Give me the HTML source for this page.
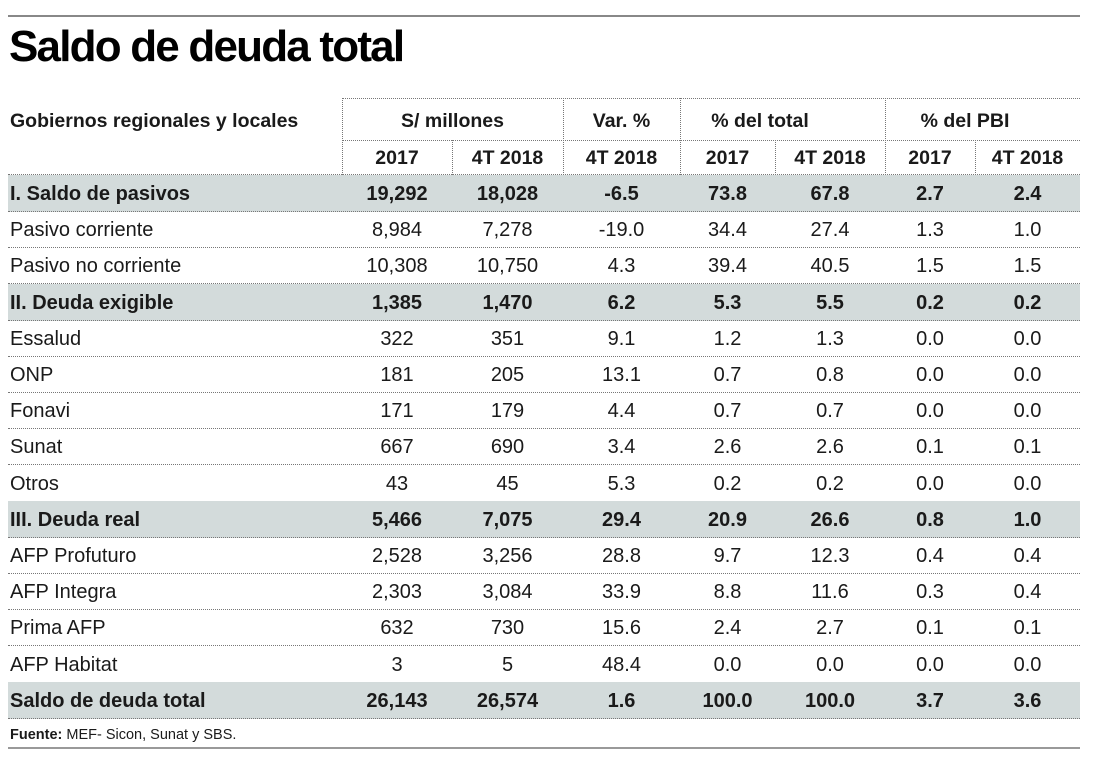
<!DOCTYPE html>
<html><head><meta charset="utf-8"><style>
body{margin:0;background:#fff;width:1104px;height:761px;position:relative;overflow:hidden;font-family:"Liberation Sans",sans-serif;color:#1a1a1a}
.a{position:absolute}
.t{left:9px;top:22px;font-size:44px;font-weight:bold;letter-spacing:-1.8px;color:#000}
.row{position:absolute;left:8px;width:1072px;height:36px;border-bottom:1px dotted #777;font-size:20px}
.row.s{background:#d3dbdb;font-weight:bold}
.c{position:absolute;top:0;height:36px;line-height:38px;text-align:center}
.l{position:absolute;left:2px;top:0;line-height:38px}
.h{font-weight:bold;font-size:19.5px}
.vl{position:absolute;border-left:1px dotted #777}
.hl{position:absolute;border-top:1px dotted #777}
</style></head><body>
<div class="a" style="left:8px;top:15px;width:1072px;border-top:2px solid #888"></div>
<div class="a t">Saldo de deuda total</div>

<div class="hl" style="left:342px;top:98px;width:738px"></div>
<div class="hl" style="left:342px;top:140px;width:738px"></div>
<div class="vl" style="left:342px;top:98px;height:77px"></div>
<div class="vl" style="left:563px;top:98px;height:77px"></div>
<div class="vl" style="left:680px;top:98px;height:77px"></div>
<div class="vl" style="left:885px;top:98px;height:77px"></div>
<div class="vl" style="left:452px;top:140px;height:35px"></div>
<div class="vl" style="left:775px;top:140px;height:35px"></div>
<div class="vl" style="left:975px;top:140px;height:35px"></div>
<div class="a h" style="left:10px;top:110px">Gobiernos regionales y locales</div>
<div class="a h" style="left:342px;width:221px;top:110px;text-align:center">S/ millones</div>
<div class="a h" style="left:563px;width:117px;top:110px;text-align:center">Var. %</div>
<div class="a h" style="left:680px;width:160px;top:110px;text-align:center">% del total</div>
<div class="a h" style="left:885px;width:160px;top:110px;text-align:center">% del PBI</div>
<div class="a h" style="left:342px;width:110px;top:147px;text-align:center">2017</div>
<div class="a h" style="left:452px;width:111px;top:147px;text-align:center">4T 2018</div>
<div class="a h" style="left:563px;width:117px;top:147px;text-align:center">4T 2018</div>
<div class="a h" style="left:680px;width:95px;top:147px;text-align:center">2017</div>
<div class="a h" style="left:775px;width:110px;top:147px;text-align:center">4T 2018</div>
<div class="a h" style="left:885px;width:90px;top:147px;text-align:center">2017</div>
<div class="a h" style="left:975px;width:105px;top:147px;text-align:center">4T 2018</div>
<div class="hl" style="left:8px;top:174px;width:1072px"></div>

<div id="rows"></div>
<script>
var d=[
["I. Saldo de pasivos","19,292","18,028","-6.5","73.8","67.8","2.7","2.4",1],
["Pasivo corriente","8,984","7,278","-19.0","34.4","27.4","1.3","1.0"],
["Pasivo no corriente","10,308","10,750","4.3","39.4","40.5","1.5","1.5"],
["II. Deuda exigible","1,385","1,470","6.2","5.3","5.5","0.2","0.2",1],
["Essalud","322","351","9.1","1.2","1.3","0.0","0.0"],
["ONP","181","205","13.1","0.7","0.8","0.0","0.0"],
["Fonavi","171","179","4.4","0.7","0.7","0.0","0.0"],
["Sunat","667","690","3.4","2.6","2.6","0.1","0.1"],
["Otros","43","45","5.3","0.2","0.2","0.0","0.0"],
["III. Deuda real","5,466","7,075","29.4","20.9","26.6","0.8","1.0",1],
["AFP Profuturo","2,528","3,256","28.8","9.7","12.3","0.4","0.4"],
["AFP Integra","2,303","3,084","33.9","8.8","11.6","0.3","0.4"],
["Prima AFP","632","730","15.6","2.4","2.7","0.1","0.1"],
["AFP Habitat","3","5","48.4","0.0","0.0","0.0","0.0"],
["Saldo de deuda total","26,143","26,574","1.6","100.0","100.0","3.7","3.6",1]];
var cols=[[334,110],[444,111],[555,117],[672,95],[767,110],[877,90],[967,105]];
var h="";
d.forEach(function(r,i){
 var top=175+i*36.2;
 h+='<div class="row'+(r[8]?' s':'')+'" style="top:'+top+'px"><div class="l">'+r[0]+'</div>';
 for(var j=0;j<7;j++)h+='<div class="c" style="left:'+cols[j][0]+'px;width:'+cols[j][1]+'px">'+r[j+1]+'</div>';
 h+='</div>';
});
document.getElementById("rows").innerHTML=h;
</script>
<div class="a" style="left:10px;top:727px;font-size:14.5px"><b>Fuente:</b> MEF- Sicon, Sunat y SBS.</div>
<div class="a" style="left:8px;top:747px;width:1072px;border-top:2px solid #999"></div>
</body></html>
